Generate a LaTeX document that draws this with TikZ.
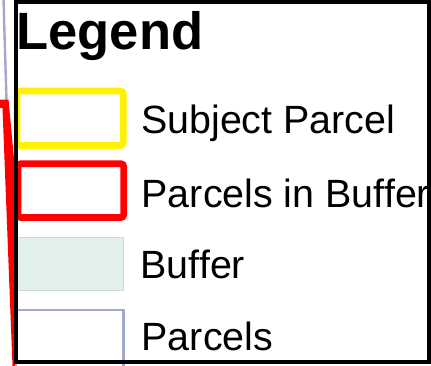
\documentclass[tikz,border=0pt]{standalone}
\usepackage{fontspec}
\setmainfont{Liberation Sans}
\definecolor{parcelline}{HTML}{A4A8CA}
\definecolor{bufferfill}{HTML}{E1F0EB}
\definecolor{bufferline}{HTML}{D3D7D6}
\tikzset{
  keytext/.style={anchor=base west, inner sep=0pt, font=\fontsize{39.4}{41}\selectfont},
  keybox/.style={line width=6.8pt, rounded corners=3pt},
}
\begin{document}
\begin{tikzpicture}[x=1pt,y=-1pt]
\useasboundingbox (0,0) rectangle (431,365);
% map features running behind the legend
\draw[parcelline, line width=2.4pt] (3.5,-1) -- (6.5,101);
\fill[red] (0,99.5) -- (8.5,99.5) -- (16,180) -- (16,366) -- (12.5,366)
  -- (2.5,108) -- (0,108) -- cycle;
% legend panel background
\fill[white] (16,1.7) rectangle (429,362);
% symbol samples
\draw[parcelline, line width=2.6pt, fill=white] (16,366) |- (123.3,310) -- (123.3,366);
\draw[bufferline, line width=1.2pt, fill=bufferfill] (16,237.2) rectangle (123.4,290.4);
\draw[keybox, red] (18,163.7) rectangle (123.7,217.5);
\draw[keybox, yellow] (17,91) rectangle (123.3,145.5);
% labels
\node[anchor=base west, inner sep=0pt, font=\bfseries\fontsize{52.5}{54}\selectfont] (title) at (16.3,49) {Legend};
\node[keytext] (subject) at (141,133) {Subject Parcel};
\node[keytext] (inbuffer) at (141.5,207) {Parcels in Buffer};
\node[keytext] (buffer) at (140.5,278) {Buffer};
\node[keytext] (parcels) at (141.5,350) {Parcels};
% legend frame
\draw[black, line width=3.6pt] (16,1.7) rectangle (429,362);
\end{tikzpicture}
\end{document}
